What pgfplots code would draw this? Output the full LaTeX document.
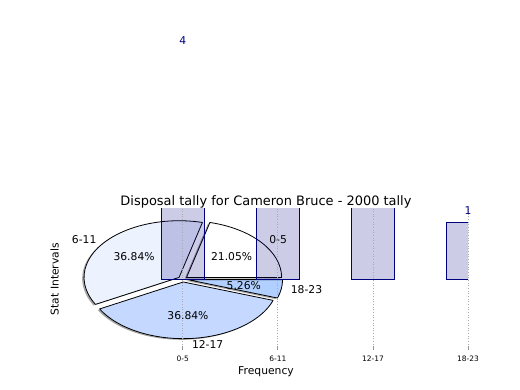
\documentclass[border=0pt]{standalone}
\usepackage{pgfplots}
\pgfplotsset{compat=1.18}
\usepackage{fontspec}
\setmainfont{DejaVu Sans}
\definecolor{navybar}{RGB}{0,0,128}
\definecolor{sliceA}{RGB}{255,255,255}
\definecolor{sliceB}{RGB}{237,242,255}
\definecolor{sliceC}{RGB}{197,216,255}
\definecolor{sliceD}{RGB}{178,208,255}
\definecolor{gridgray}{RGB}{170,170,170}
\definecolor{tickgray}{RGB}{150,150,150}
\newcommand{\lblfont}{\fontsize{10.8}{13}\selectfont}
% pie: values 4, 7, 7, 1 (total 19), explode 0.05, radius 1 (axis units)
\newcommand{\pieshadow}[2]{%
  \fill[black, fill opacity=0.35] (axis cs:-0.02,-0.02) ++({(#1+#2)/2}:4.753bp and 2.834bp)
    -- ++({#1}:95.06bp and 56.68bp)
    arc[start angle={#1}, end angle={#2}, x radius=95.06bp, y radius=56.68bp] -- cycle;}
\newcommand{\pieslice}[3]{%
  \filldraw[fill=#3, draw=black, line width=0.8bp, line join=round] (axis cs:0,0) ++({(#1+#2)/2}:4.753bp and 2.834bp)
    -- ++({#1}:95.06bp and 56.68bp)
    arc[start angle={#1}, end angle={#2}, x radius=95.06bp, y radius=56.68bp] -- cycle;}
\begin{document}
\begin{tikzpicture}
\useasboundingbox (0,0) rectangle (520bp,390bp);
\begin{axis}[
  at={(64bp,40bp)}, anchor=south west,
  width=404bp, height=141.7bp, scale only axis,
  xmin=-1.25, xmax=3, ymin=-1.25, ymax=1.25,
  axis on top,
  axis lines*=left, axis line style={draw=none},
  ytick=\empty,
  xtick={0,1,2,3}, xticklabels={0-5,6-11,12-17,18-23},
  tick align=inside, major tick length=4bp,
  xtick style={color=tickgray, line width=0.8bp},
  xticklabel style={font=\fontsize{7.5}{9}\selectfont, anchor=base, yshift=-11bp, inner sep=0pt},
  xmajorgrids,
  major grid style={gridgray, line width=0.8bp, dash pattern=on 1bp off 1.65bp},
  title={Disposal tally for Cameron Bruce - 2000 tally},
  title style={at={(axis description cs:0.5,1)}, anchor=base, yshift=-2.7bp, inner sep=0pt, font=\fontsize{13}{15}\selectfont},
  xlabel={Frequency},
  xlabel style={at={(axis description cs:0.5,0)}, anchor=base, yshift=-24.5bp, inner sep=0pt, font=\lblfont},
  ylabel={Stat Intervals},
  ylabel style={at={(axis description cs:-0.0124,0.5)}, anchor=south, rotate=0, inner sep=0pt, font=\lblfont},
]
% shadows
\pieshadow{0}{360*4/19}
\pieshadow{360*4/19}{360*11/19}
\pieshadow{360*11/19}{360*18/19}
\pieshadow{360*18/19}{360}
% wedges
\pieslice{0}{360*4/19}{sliceA}
\pieslice{360*4/19}{360*11/19}{sliceB}
\pieslice{360*11/19}{360*18/19}{sliceC}
\pieslice{360*18/19}{360}{sliceD}
% bars
\addplot[ybar, bar width=0.45, bar shift=0pt, fill=navybar, fill opacity=0.2, draw=navybar, line width=1bp]
  coordinates {(0,4) (1,7) (2,7) (3,1)};
% pie labels
\node[anchor=west, inner sep=0pt, font=\lblfont] at (axis cs:0.9075,0.7064) {0-5};
\node[anchor=east, inner sep=0pt, font=\lblfont] at (axis cs:-0.9075,0.7064) {6-11};
\node[anchor=west, inner sep=0pt, font=\lblfont] at (axis cs:0.0950,-1.1461) {12-17};
\node[anchor=west, inner sep=0pt, font=\lblfont] at (axis cs:1.1343,-0.1893) {18-23};
\node[anchor=center, inner sep=0pt, font=\lblfont] at (axis cs:0.5129,0.3993) {21.05\%};
\node[anchor=center, inner sep=0pt, font=\lblfont] at (axis cs:-0.5129,0.3993) {36.84\%};
\node[anchor=center, inner sep=0pt, font=\lblfont] at (axis cs:0.0537,-0.6478) {36.84\%};
\node[anchor=center, inner sep=0pt, font=\lblfont] at (axis cs:0.6412,-0.1070) {5.26\%};
\end{axis}
\begin{axis}[
  at={(64bp,40bp)}, anchor=south west,
  width=404bp, height=141.7bp, scale only axis,
  xmin=-1.25, xmax=3, ymin=-1.25, ymax=1.25,
  hide axis, clip=false,
  /pgf/number format/assume math mode=true,
]
\addplot[ybar, bar width=0.45, bar shift=0pt, draw=none, fill=none,
  nodes near coords,
  nodes near coords style={anchor=base, yshift=8.3bp, inner sep=0pt, font=\lblfont, text=navybar}]
  coordinates {(0,4) (3,1)};
\end{axis}
\end{tikzpicture}
\end{document}
